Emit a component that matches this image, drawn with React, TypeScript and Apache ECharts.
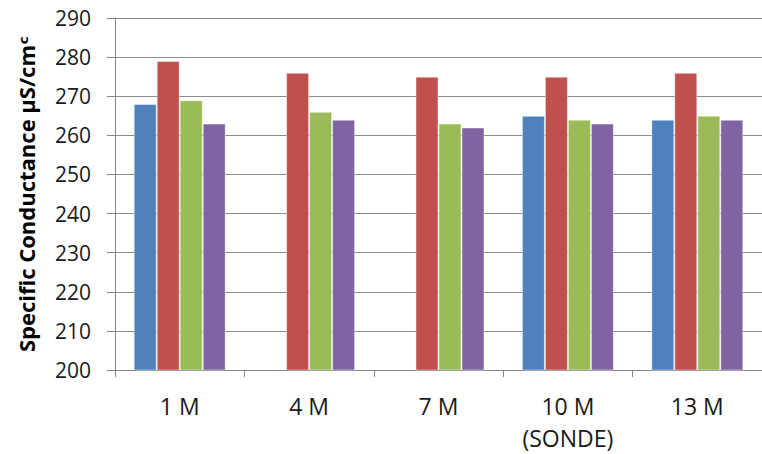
import React, { useEffect, useRef } from "react";
import * as echarts from "echarts";

const categories = ["1 M", "4 M", "7 M", "10 M\n(SONDE)", "13 M"];
const seriesBlue: (number | null)[] = [268, null, null, 265, 264];
const seriesRed: (number | null)[] = [279, 276, 275, 275, 276];
const seriesGreen: (number | null)[] = [269, 266, 263, 264, 265];
const seriesPurple: (number | null)[] = [263, 264, 262, 263, 264];
const yMin = 200;
const yMax = 290;
const yStep = 10;

const colors = ["#4F81BD", "#C0504D", "#9BBB59", "#8064A2"];
const FONT = "'Open Sans', 'DejaVu Sans', sans-serif";

export default function App() {
  const ref = useRef<HTMLDivElement>(null);
  useEffect(() => {
    if (!ref.current) return;
    const chart = echarts.init(ref.current, undefined, { renderer: "svg" });
    const mk = (data: (number | null)[], i: number) => ({
      type: "bar",
      data,
      barWidth: 23,
      barGap: "0%",
      itemStyle: {
        color: colors[i],
        borderColor: "rgba(255,255,255,0.45)",
        borderWidth: 1,
      },
    });
    chart.setOption({
      animation: false,
      grid: { left: 115, right: 0, top: 18, bottom: 84, containLabel: false },
      xAxis: {
        type: "category",
        data: categories,
        axisLine: { lineStyle: { color: "#868686", width: 1 } },
        axisTick: { show: true, length: 7, alignWithLabel: false, lineStyle: { color: "#868686" } },
        axisLabel: {
          interval: 0,
          margin: 20,
          color: "#1a1a1a",
          fontFamily: FONT,
          fontSize: 23,
          lineHeight: 32,
        },
      },
      yAxis: {
        type: "value",
        min: yMin,
        max: yMax,
        interval: yStep,
        name: "Specific Conductance µS/cmᶜ",
        nameLocation: "middle",
        nameGap: 78,
        nameTextStyle: {
          fontFamily: FONT,
          fontWeight: "bold",
          fontSize: 22,
          color: "#000",
        },
        axisLine: { show: true, lineStyle: { color: "#868686", width: 1 } },
        axisTick: { show: true, length: 8, inside: false, lineStyle: { color: "#868686" } },
        splitLine: { show: true, lineStyle: { color: "#8c8c8c", width: 1 } },
        axisLabel: {
          margin: 24,
          color: "#1a1a1a",
          fontFamily: FONT,
          fontSize: 21,
        },
      },
      series: [
        mk(seriesBlue, 0),
        mk(seriesRed, 1),
        mk(seriesGreen, 2),
        mk(seriesPurple, 3),
      ],
    });
    return () => chart.dispose();
  }, []);
  return (
    <div
      ref={ref}
      style={{ position: "fixed", left: 0, top: 0, width: 762, height: 454, background: "#fff" }}
    />
  );
}
